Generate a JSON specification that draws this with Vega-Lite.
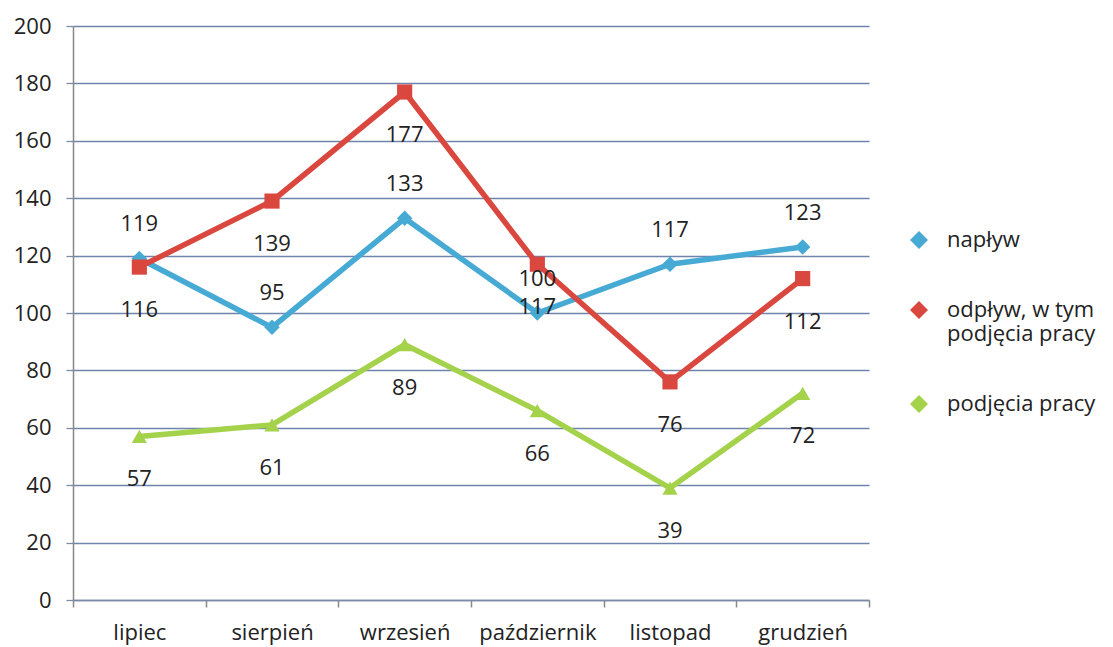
{
  "$schema": "https://vega.github.io/schema/vega-lite/v6.json",
  "width": 796,
  "height": 574,
  "autosize": {"type": "none"},
  "padding": {"left": 73, "top": 26, "right": 244, "bottom": 47},
  "background": "#ffffff",
  "config": {
    "font": "Open Sans",
    "view": {"stroke": null},
    "axis": {"labelFont": "Open Sans", "labelFontSize": 22, "labelColor": "#222222", "titleFont": "Open Sans"},
    "legend": {"labelFont": "Open Sans", "labelFontSize": 22, "labelColor": "#222222"}
  },
  "data": {
    "values": [
      {"month": "lipiec", "series": "napływ", "value": 119},
      {"month": "sierpień", "series": "napływ", "value": 95},
      {"month": "wrzesień", "series": "napływ", "value": 133},
      {"month": "październik", "series": "napływ", "value": 100},
      {"month": "listopad", "series": "napływ", "value": 117},
      {"month": "grudzień", "series": "napływ", "value": 123},
      {"month": "lipiec", "series": "odpływ, w tym podjęcia pracy", "value": 116},
      {"month": "sierpień", "series": "odpływ, w tym podjęcia pracy", "value": 139},
      {"month": "wrzesień", "series": "odpływ, w tym podjęcia pracy", "value": 177},
      {"month": "październik", "series": "odpływ, w tym podjęcia pracy", "value": 117},
      {"month": "listopad", "series": "odpływ, w tym podjęcia pracy", "value": 76},
      {"month": "grudzień", "series": "odpływ, w tym podjęcia pracy", "value": 112},
      {"month": "lipiec", "series": "podjęcia pracy", "value": 57},
      {"month": "sierpień", "series": "podjęcia pracy", "value": 61},
      {"month": "wrzesień", "series": "podjęcia pracy", "value": 89},
      {"month": "październik", "series": "podjęcia pracy", "value": 66},
      {"month": "listopad", "series": "podjęcia pracy", "value": 39},
      {"month": "grudzień", "series": "podjęcia pracy", "value": 72}
    ]
  },
  "encoding": {
    "x": {
      "field": "month",
      "type": "nominal",
      "sort": ["lipiec", "sierpień", "wrzesień", "październik", "listopad", "grudzień"],
      "scale": {"type": "band", "paddingInner": 0, "paddingOuter": 0},
      "axis": {
        "title": null,
        "labelAngle": 0,
        "tickBand": "extent",
        "tickSize": 7,
        "tickColor": "#888888",
        "tickWidth": 1.5,
        "labelPadding": 15,
        "domainColor": "#7d8aa6",
        "domainWidth": 1.5,
        "grid": false
      }
    },
    "y": {
      "field": "value",
      "type": "quantitative",
      "scale": {"domain": [0, 200], "nice": false},
      "axis": {
        "title": null,
        "values": [0, 20, 40, 60, 80, 100, 120, 140, 160, 180, 200],
        "grid": true,
        "gridColor": "#6f84aa",
        "gridWidth": 1.3,
        "tickSize": 7,
        "tickColor": "#7d8aa6",
        "tickWidth": 1.3,
        "domainColor": "#888888",
        "domainWidth": 1.5,
        "labelPadding": 15
      }
    }
  },
  "layer": [
    {
      "transform": [{"filter": "datum.series == 'podjęcia pracy'"}],
      "mark": {"type": "line", "strokeWidth": 5.5, "color": "#a4d24b"}
    },
    {
      "transform": [{"filter": "datum.series == 'napływ'"}],
      "mark": {"type": "line", "strokeWidth": 5.5, "color": "#46aad4"}
    },
    {
      "transform": [{"filter": "datum.series == 'odpływ, w tym podjęcia pracy'"}],
      "mark": {"type": "line", "strokeWidth": 5.5, "color": "#d9473f"}
    },
    {
      "transform": [{"filter": "datum.series == 'napływ'"}],
      "mark": {"type": "point", "shape": "diamond", "filled": true, "opacity": 1, "size": 240},
      "encoding": {
        "color": {
          "field": "series",
          "type": "nominal",
          "scale": {
            "domain": ["napływ", "odpływ, w tym podjęcia pracy", "podjęcia pracy"],
            "range": ["#46aad4", "#d9473f", "#a4d24b"]
          },
          "legend": {
            "title": null,
            "orient": "none",
            "legendX": 835,
            "legendY": 203,
            "symbolSize": 324,
            "labelOffset": 17,
            "rowPadding": 48,
            "labelLimit": 300,
            "labelExpr": "datum.label == 'odpływ, w tym podjęcia pracy' ? ['odpływ, w tym', 'podjęcia pracy'] : datum.label",
            "encode": {
              "symbols": {
                "update": {
                  "shape": {"signal": "datum.value == 'napływ' ? 'M-3,-0.22H3V0.22H-3Z M0,-0.9L0.9,0L0,0.9L-0.9,0Z' : datum.value == 'podjęcia pracy' ? 'M-3,-0.22H3V0.22H-3Z M0,-0.85L0.9,0.7H-0.9Z' : 'M-3,-0.22H3V0.22H-3Z M-0.78,-0.78H0.78V0.78H-0.78Z'"},
                  "fill": {"signal": "scale('color', datum.value)"},
                  "stroke": {"value": "transparent"},
                  "strokeWidth": {"value": 0},
                  "opacity": {"value": 1}
                }
              }
            }
          }
        }
      }
    },
    {
      "transform": [{"filter": "datum.series == 'odpływ, w tym podjęcia pracy'"}],
      "mark": {"type": "point", "shape": "square", "filled": true, "opacity": 1, "size": 230},
      "encoding": {"color": {"field": "series", "type": "nominal"}}
    },
    {
      "transform": [{"filter": "datum.series == 'podjęcia pracy'"}],
      "mark": {"type": "point", "shape": "triangle-up", "filled": true, "opacity": 1, "size": 230},
      "encoding": {"color": {"field": "series", "type": "nominal"}}
    },
    {
      "transform": [{"filter": "datum.series == 'napływ'"}],
      "mark": {"type": "text", "dy": -34, "fontSize": 22, "font": "Open Sans", "color": "#222222"},
      "encoding": {"text": {"field": "value", "type": "quantitative"}}
    },
    {
      "transform": [{"filter": "datum.series != 'napływ'"}],
      "mark": {"type": "text", "dy": 43, "fontSize": 22, "font": "Open Sans", "color": "#222222"},
      "encoding": {"text": {"field": "value", "type": "quantitative"}}
    }
  ]
}
